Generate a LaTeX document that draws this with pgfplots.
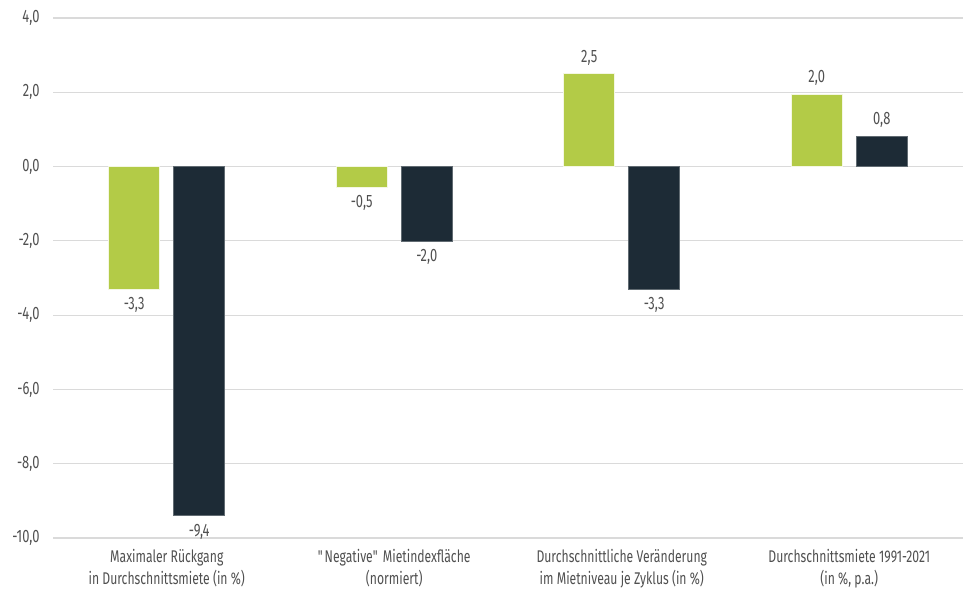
\documentclass[border=0pt]{standalone}
\usepackage{pgfplots}
\pgfplotsset{compat=1.18}
\usepackage{fontspec}
\setmainfont[FakeStretch=0.72,Ligatures=ResetAll]{Fira Sans}
\definecolor{cgreen}{HTML}{B3CB47}
\definecolor{cdark}{HTML}{1D2B36}
\definecolor{ctext}{HTML}{505050}
\definecolor{cgrid}{HTML}{DADADA}
\begin{document}
\begin{tikzpicture}[x=1bp,y=1bp]
\begin{axis}[
  name=ax,
  scale only axis,
  width=910bp, height=520bp,
  ymin=-10, ymax=4,
  xmin=-0.5, xmax=3.5,
  ytick={-10,-8,...,4},
  xtick={0,1,2,3},
  xticklabels={{Maximaler Rückgang\\in Durchschnittsmiete (in \%)},
               {\textquotedbl Negative\textquotedbl\ Mietindexfläche\\(normiert)},
               {Durchschnittliche Veränderung\\im Mietniveau je Zyklus (in \%)},
               {Durchschnittsmiete 1991-2021\\(in \%, p.a.)}},
  xticklabel style={align=center, font=\fontsize{17}{22}\selectfont, text=ctext, yshift=-8bp},
  yticklabel style={font=\fontsize{18}{20}\selectfont, text=ctext},
  yticklabel={\pgfmathprintnumber[fixed,fixed zerofill,precision=1,use comma,assume math mode=true]{\tick}},
  major tick length=0pt,
  axis line style={draw=none},
  ymajorgrids,
  grid style={cgrid, line width=1.2bp},
  yticklabel shift=10bp,
  ybar=14bp,
  bar width=51bp,
  point meta=explicit symbolic,
  visualization depends on={rawy \as \rawy},
  nodes near coords,
  nodes near coords style={font=\fontsize{18}{20}\selectfont, text=ctext, inner sep=6bp},
  every node near coord/.append code={\ifdim\rawy pt<0pt\pgfkeysalso{anchor=north, yshift=-2bp}\else\pgfkeysalso{anchor=south, yshift=2bp}\fi},
]
\addplot[fill=cgreen, draw=white!85!cgreen, line width=0.6bp] coordinates {
  (0,-3.3) [-3,3]
  (1,-0.55) [-0,5]
  (2,2.5) [2,5]
  (3,1.95) [2,0]
};
\addplot[fill=cdark, draw=cdark!70!white, line width=0.6bp] coordinates {
  (0,-9.4) [-9,4]
  (1,-2.0) [-2,0]
  (2,-3.3) [-3,3]
  (3,0.82) [0,8]
};
\end{axis}
\pgfresetboundingbox
\path[use as bounding box] ([xshift=-53bp,yshift=-58bp]ax.south west) rectangle ([xshift=7bp,yshift=18bp]ax.north east);
\end{tikzpicture}
\end{document}
